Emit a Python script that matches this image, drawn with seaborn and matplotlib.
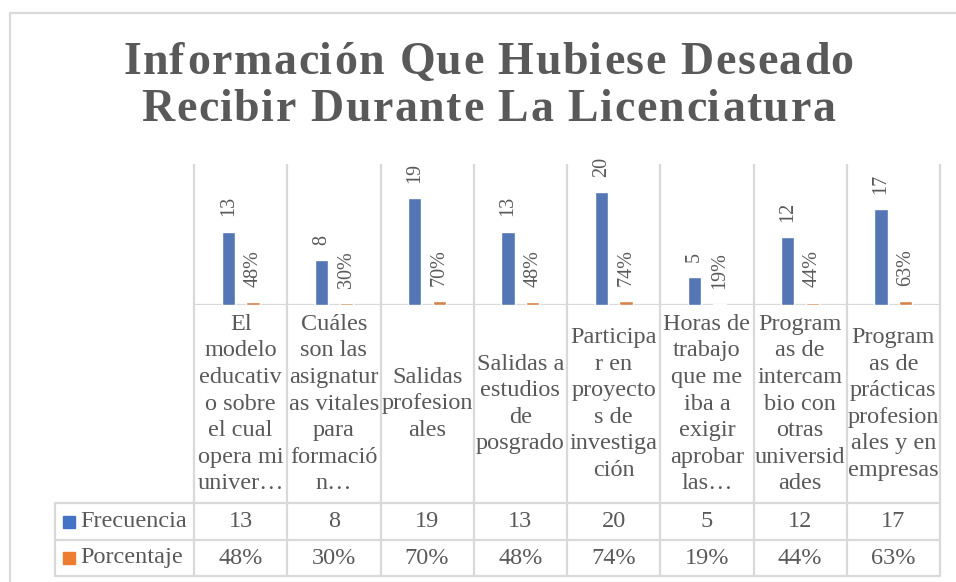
import pandas as pd
import seaborn as sns
import matplotlib.pyplot as plt
from matplotlib.patches import Rectangle
from matplotlib.lines import Line2D
from matplotlib import font_manager, ft2font

sns.set_style('white')
plt.rcParams['font.family'] = ['Liberation Serif', 'DejaVu Serif']

# 데이터
titulo = ['Información Que Hubiese Deseado', 'Recibir Durante La Licenciatura']
categorias = [
    'El\nmodelo\neducativ\no sobre\nel cual\nopera mi\nuniver…',
    'Cuáles\nson las\nasignatur\nas vitales\npara\nformació\nn…',
    'Salidas\nprofesion\nales',
    'Salidas a\nestudios\nde\nposgrado',
    'Participa\nr en\nproyecto\ns de\ninvestiga\nción',
    'Horas de\ntrabajo\nque me\niba a\nexigir\naprobar\nlas…',
    'Program\nas de\nintercam\nbio con\notras\nuniversid\nades',
    'Program\nas de\nprácticas\nprofesion\nales y en\nempresas',
]
frecuencia = [13, 8, 19, 13, 20, 5, 12, 17]
porcentaje = [0.48, 0.30, 0.70, 0.48, 0.74, 0.19, 0.44, 0.63]
series = ['Frecuencia', 'Porcentaje']
colores = ['#4472C4', '#ED7D31']

gris = '#595959'
linea = '#D9D9D9'

df = pd.DataFrame({
    'categoria': categorias * 2,
    'valor': frecuencia + porcentaje,
    'serie': [series[0]] * len(categorias) + [series[1]] * len(categorias),
})

W, H = 956, 582
fig = plt.figure(figsize=(W / 100, H / 100), dpi=100)

# 픽셀 기준 레이아웃
ax_left, ax_right, ax_top, ax_bottom = 194, 940, 164, 305
ax = fig.add_axes([ax_left / W, 1 - ax_bottom / H,
                   (ax_right - ax_left) / W, (ax_bottom - ax_top) / H])

sns.barplot(data=df, x='categoria', y='valor', hue='serie', palette=colores,
            width=0.53, gap=0.47, errorbar=None, legend=False, ax=ax)

ax.set_ylim(0, 25)
ax.set_xlim(-0.5, len(categorias) - 0.5)
ax.set_xticks([])
ax.set_yticks([])
ax.set_xlabel('')
ax.set_ylabel('')
for s in ax.spines.values():
    s.set_visible(False)

# 데이터 레이블
ax.bar_label(ax.containers[0], labels=[str(v) for v in frecuencia],
             rotation=90, padding=11, fontsize=14.5, color=gris)
ax.bar_label(ax.containers[1], labels=[f'{p:.0%}' for p in porcentaje],
             rotation=90, padding=11, fontsize=14.5, color=gris)


def ay(y):
    # 픽셀 y -> axes 좌표
    return (ax_bottom - y) / (ax_bottom - ax_top)


def fx(x):
    return x / W


def fy(y):
    return 1 - y / H


n = len(categorias)
row_head, row_f, row_p = 503, 540, 576
table_left = 55
bt = ax.get_xaxis_transform()

# 세로 격자선
ax.vlines([i - 0.5 for i in range(n + 1)], ay(row_p), 1, transform=bt,
          colors=linea, lw=1.6, clip_on=False, zorder=0)

# 가로선
ax.axhline(0, color=linea, lw=1.6, zorder=0)
for y in [row_head, row_f, row_p]:
    fig.add_artist(Line2D([fx(table_left), fx(ax_right)], [fy(y), fy(y)],
                          color=linea, lw=1.6))
fig.add_artist(Line2D([fx(table_left), fx(table_left)], [fy(row_head), fy(row_p)],
                      color=linea, lw=1.6))

# 차트 테두리
fig.add_artist(Line2D([fx(10), fx(W)], [fy(13), fy(13)], color=linea, lw=1.6))
fig.add_artist(Line2D([fx(10), fx(10)], [fy(13), fy(H)], color=linea, lw=1.6))

# 표: 카테고리 헤더
for i, c in enumerate(categorias):
    ax.text(i, ay((ax_bottom + row_head) / 2), c, transform=bt, ha='center',
            va='center', fontsize=17.5, color=gris, linespacing=1.35)

# 표: 값 행
rows = [
    (series[0], [str(v) for v in frecuencia], (row_head + row_f) / 2, colores[0]),
    (series[1], [f'{p:.0%}' for p in porcentaje], (row_f + row_p) / 2, colores[1]),
]
for nombre, vals, yc, col in rows:
    for i, v in enumerate(vals):
        ax.text(i, ay(yc), v, transform=bt, ha='center', va='center',
                fontsize=17.5, color=gris)
    fig.add_artist(Rectangle((fx(63), fy(yc + 6)), 12 / W, 12 / H,
                             color=col, transform=fig.transFigure))
    fig.text(fx(80), fy(yc), nombre, ha='left', va='center',
             fontsize=17.5, color=gris)

# 제목 (자간을 넓혀서 한 글자씩 배치)
title_size = 33
fp = font_manager.FontProperties(family='Liberation Serif', weight='bold')
ft = ft2font.FT2Font(font_manager.findfont(fp))
ft.set_size(title_size, 100)


def spaced_line(line, xc, yb, track):
    advs, bears = [], []
    for ch in line:
        g = ft.load_char(ord(ch))
        advs.append(g.linearHoriAdvance / 65536)
        bears.append(g.horiBearingX / 64)
    total = sum(advs) + track * (len(line) - 1)
    x = xc - total / 2
    for ch, a, b in zip(line, advs, bears):
        if ch != ' ':
            fig.text(fx(x + b), fy(yb), ch, ha='left', va='baseline',
                     fontsize=title_size, fontweight='bold', color=gris)
        x += a + track


spaced_line(titulo[0], 487, 74, 1.6)
spaced_line(titulo[1], 487, 121, 1.6)

plt.savefig('out.png', dpi=100)
